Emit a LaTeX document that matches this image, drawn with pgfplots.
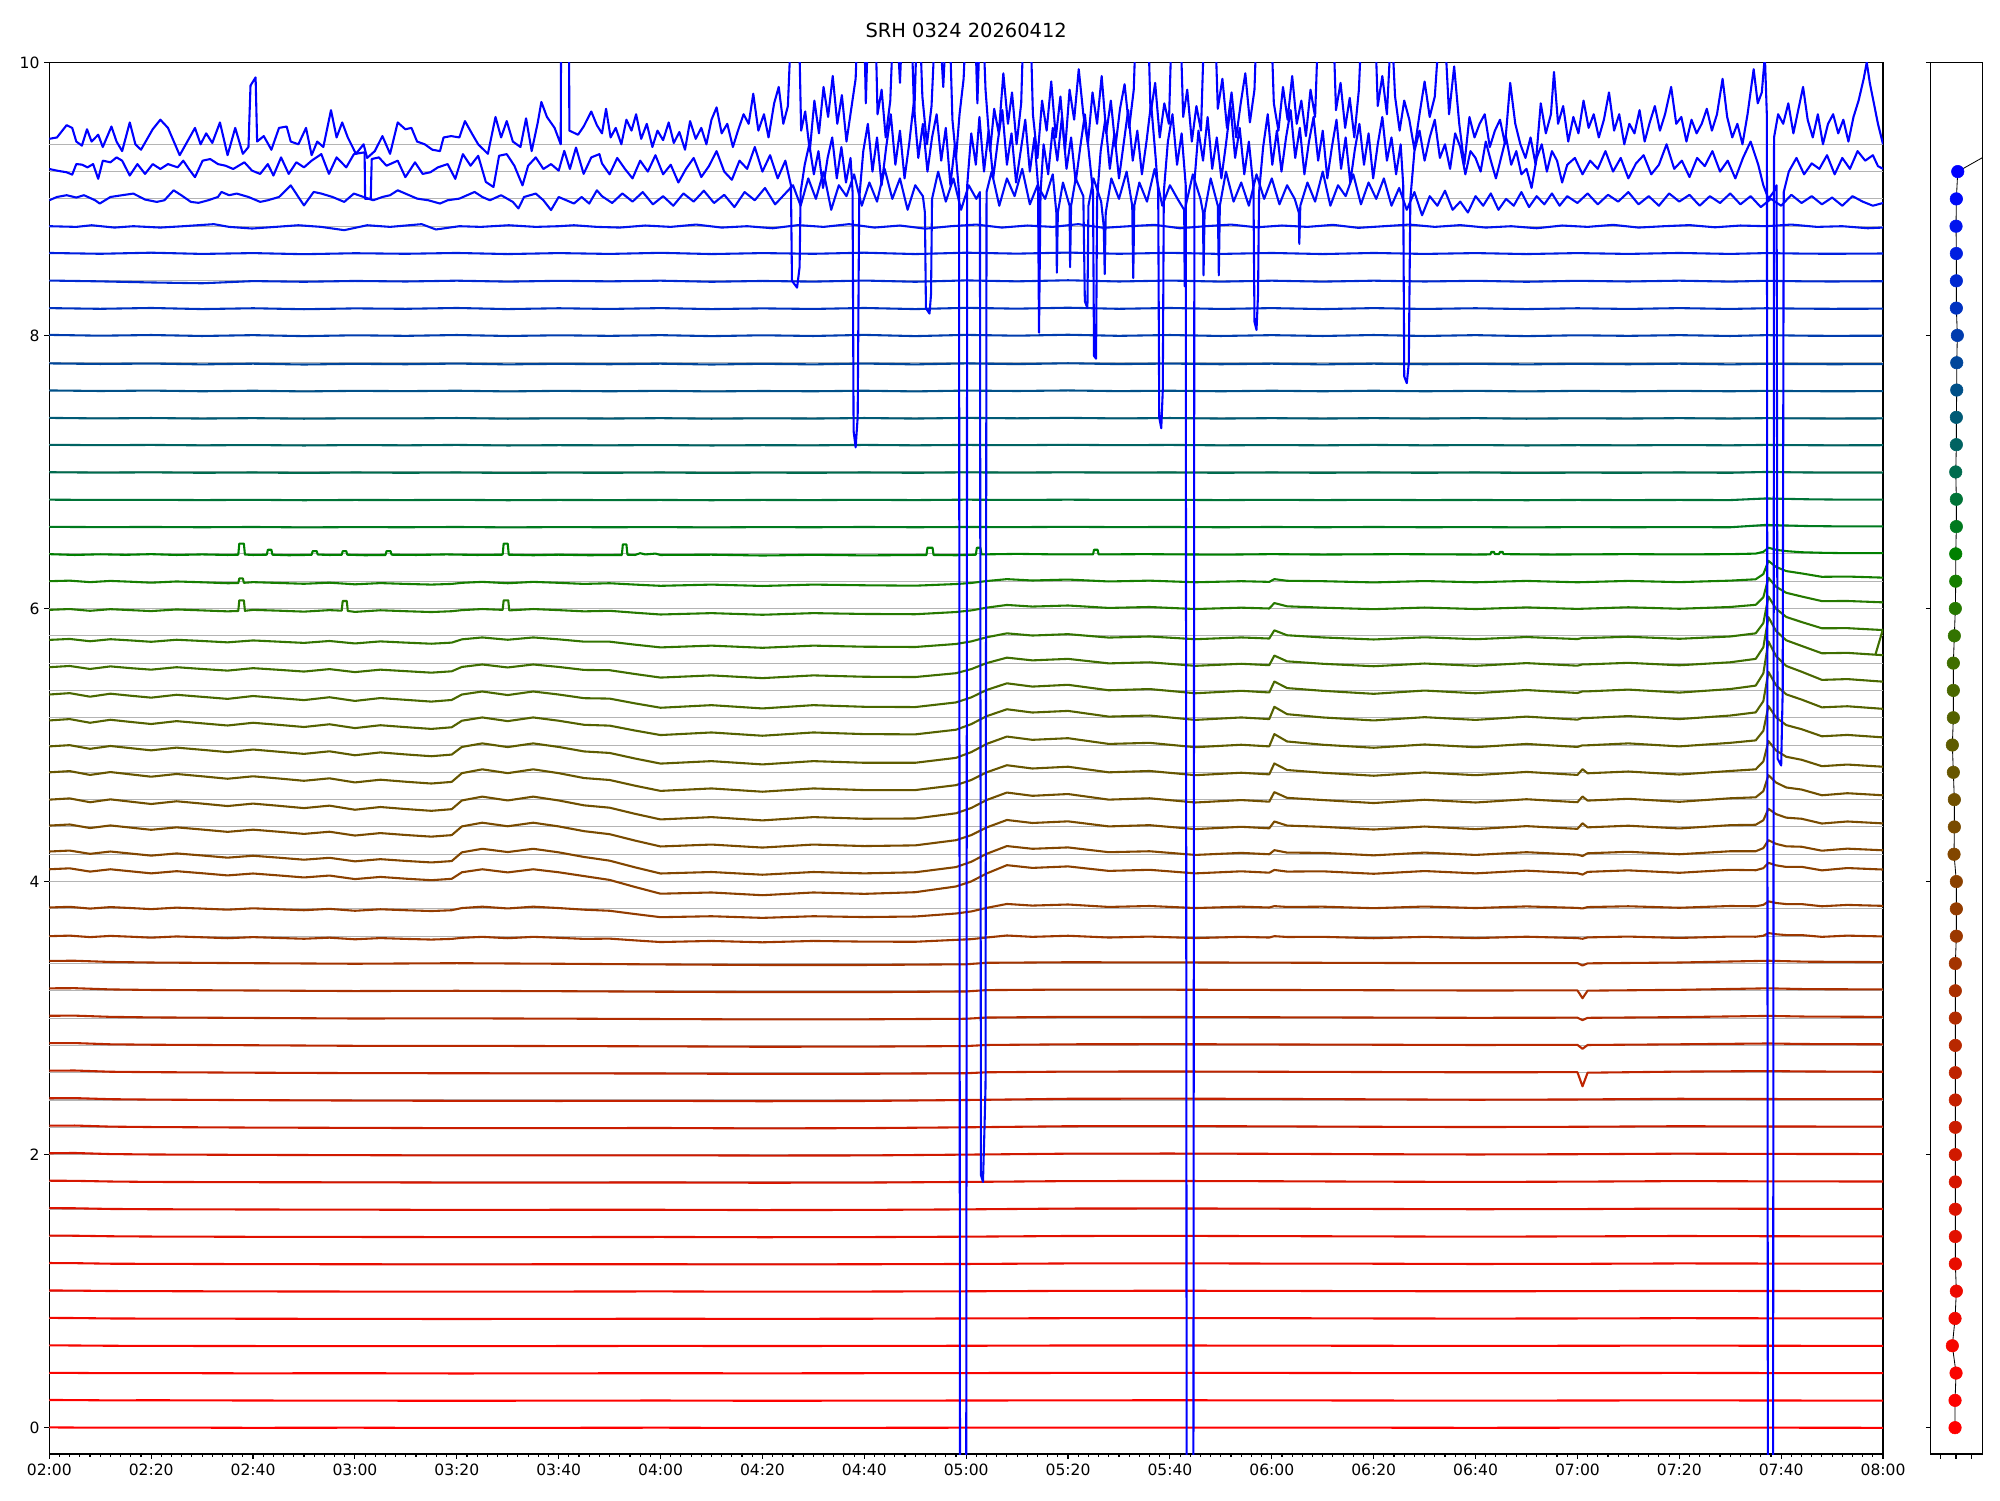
\documentclass[border=0pt]{standalone}
\usepackage{pgfplots}
\pgfplotsset{compat=1.18}
\usepackage{pgfplotstable}
\usepackage{fontspec}
\setmainfont{DejaVu Sans}
\definecolor{gridc}{RGB}{180,180,180}
\definecolor{c0}{RGB}{255,0,0}\definecolor{c1}{RGB}{253,2,0}\definecolor{c2}{RGB}{250,4,0}\definecolor{c3}{RGB}{246,6,0}
\definecolor{c4}{RGB}{242,8,0}\definecolor{c5}{RGB}{237,10,0}\definecolor{c6}{RGB}{232,13,0}\definecolor{c7}{RGB}{226,16,0}
\definecolor{c8}{RGB}{220,19,0}\definecolor{c9}{RGB}{214,22,0}\definecolor{c10}{RGB}{208,25,0}\definecolor{c11}{RGB}{202,29,0}
\definecolor{c12}{RGB}{196,33,0}\definecolor{c13}{RGB}{190,36,0}\definecolor{c14}{RGB}{184,40,0}\definecolor{c15}{RGB}{177,44,0}
\definecolor{c16}{RGB}{170,48,0}\definecolor{c17}{RGB}{163,52,0}\definecolor{c18}{RGB}{155,56,0}\definecolor{c19}{RGB}{147,60,0}
\definecolor{c20}{RGB}{139,65,0}\definecolor{c21}{RGB}{130,70,0}\definecolor{c22}{RGB}{121,75,0}\definecolor{c23}{RGB}{112,80,0}
\definecolor{c24}{RGB}{103,86,0}\definecolor{c25}{RGB}{94,92,0}\definecolor{c26}{RGB}{84,98,0}\definecolor{c27}{RGB}{74,104,0}
\definecolor{c28}{RGB}{63,110,0}\definecolor{c29}{RGB}{51,116,0}\definecolor{c30}{RGB}{38,121,0}\definecolor{c31}{RGB}{22,126,0}
\definecolor{c32}{RGB}{0,128,0}\definecolor{c33}{RGB}{0,122,30}\definecolor{c34}{RGB}{0,115,55}\definecolor{c35}{RGB}{0,107,78}
\definecolor{c36}{RGB}{0,99,98}\definecolor{c37}{RGB}{0,90,117}\definecolor{c38}{RGB}{0,80,136}\definecolor{c39}{RGB}{0,70,155}
\definecolor{c40}{RGB}{0,60,174}\definecolor{c41}{RGB}{0,50,192}\definecolor{c42}{RGB}{0,40,209}\definecolor{c43}{RGB}{0,30,224}
\definecolor{c44}{RGB}{0,20,238}\definecolor{c45}{RGB}{0,10,248}\definecolor{c46}{RGB}{0,0,255}\definecolor{c47}{RGB}{0,0,255}
\pgfplotsset{tr/.style={line width=1.5pt, line join=round, mark=none}}

\pgfplotstableread{
t k0 k1 k2 k3 k4 k5 k6 k7 k8 k9 k10 k11 k12
0 0.002 0.203 0.402 0.603 0.804 1.005 1.206 1.407 1.608 1.809 2.010 2.212 2.413
5 0.001 0.202 0.401 0.602 0.803 1.004 1.205 1.406 1.607 1.808 2.012 2.213 2.414
12 0.000 0.200 0.399 0.600 0.800 1.001 1.201 1.402 1.602 1.803 2.004 2.205 2.406
20 0.001 0.201 0.400 0.599 0.799 1.000 1.200 1.400 1.600 1.800 2.001 2.202 2.403
40 -0.001 0.199 0.398 0.598 0.798 0.998 1.198 1.398 1.598 1.798 1.998 2.198 2.399
60 0.000 0.198 0.399 0.597 0.797 0.997 1.197 1.397 1.597 1.797 1.996 2.196 2.396
80 -0.002 0.197 0.397 0.597 0.796 0.996 1.196 1.396 1.595 1.795 1.994 2.194 2.394
100 -0.001 0.198 0.398 0.598 0.797 0.997 1.197 1.396 1.596 1.795 1.994 2.194 2.393
120 0.000 0.199 0.399 0.599 0.798 0.998 1.197 1.397 1.596 1.796 1.995 2.195 2.394
140 -0.002 0.197 0.398 0.598 0.797 0.996 1.196 1.395 1.594 1.794 1.993 2.192 2.391
160 -0.001 0.198 0.399 0.599 0.798 0.997 1.197 1.396 1.595 1.795 1.994 2.194 2.393
180 0.000 0.199 0.400 0.600 0.800 0.999 1.199 1.399 1.599 1.800 2.000 2.200 2.400
200 0.001 0.200 0.401 0.602 0.802 1.002 1.203 1.404 1.605 1.806 2.007 2.208 2.409
220 0.000 0.201 0.402 0.602 0.803 1.003 1.204 1.405 1.606 1.807 2.008 2.209 2.410
240 0.001 0.200 0.401 0.601 0.802 1.002 1.202 1.403 1.604 1.805 2.006 2.207 2.408
260 0.000 0.199 0.400 0.600 0.800 1.000 1.201 1.401 1.602 1.802 2.003 2.204 2.405
280 -0.001 0.198 0.399 0.599 0.799 0.999 1.199 1.399 1.600 1.800 2.001 2.202 2.402
300 0.000 0.199 0.400 0.600 0.800 1.000 1.200 1.401 1.601 1.802 2.003 2.204 2.404
320 0.001 0.200 0.401 0.601 0.802 1.002 1.203 1.404 1.605 1.806 2.007 2.208 2.409
340 0.000 0.199 0.400 0.600 0.801 1.001 1.202 1.402 1.603 1.804 2.005 2.206 2.407
360 -0.001 0.198 0.399 0.599 0.800 1.000 1.201 1.401 1.602 1.803 2.004 2.205 2.406
}\lowtab

\pgfplotstableread{
t k13 k14 k15 k16 k17
0 2.615 2.816 3.017 3.218 3.419
5 2.616 2.817 3.018 3.219 3.420
12 2.607 2.808 3.009 3.210 3.411
20 2.604 2.805 3.005 3.206 3.407
40 2.600 2.801 3.001 3.202 3.402
60 2.597 2.797 2.997 3.198 3.398
80 2.596 2.797 2.998 3.200 3.402
100 2.595 2.795 2.996 3.197 3.398
120 2.594 2.793 2.993 3.193 3.393
140 2.591 2.790 2.990 3.190 3.389
160 2.592 2.791 2.991 3.190 3.389
180 2.596 2.795 2.995 3.195 3.394
184 2.603 2.803 3.004 3.205 3.405
200 2.608 2.808 3.009 3.209 3.409
220 2.609 2.809 3.008 3.208 3.408
240 2.607 2.807 3.006 3.206 3.406
260 2.605 2.805 3.004 3.204 3.404
280 2.603 2.803 3.002 3.202 3.402
300 2.604 2.804 3.003 3.203 3.403
301 2.500 2.775 2.985 3.145 3.385
302 2.600 2.803 3.002 3.201 3.401
320 2.608 2.808 3.007 3.207 3.407
337.5 2.612 2.814 3.016 3.218 3.420
345 2.609 2.810 3.011 3.212 3.413
360 2.607 2.808 3.009 3.210 3.410
}\lowbtab

\pgfplotstableread{
t k18 k19 k20 k21 k22 k23 k24 k25 k26 k27 k28 k29
0 3.600 3.810 4.090 4.220 4.410 4.600 4.800 4.990 5.180 5.370 5.570 5.770
4 3.604 3.815 4.097 4.227 4.418 4.609 4.809 4.999 5.190 5.380 5.579 5.777
8 3.593 3.802 4.073 4.203 4.392 4.581 4.781 4.972 5.163 5.354 5.557 5.760
12 3.602 3.813 4.090 4.220 4.411 4.602 4.802 4.993 5.185 5.376 5.576 5.775
16 3.596 3.806 4.075 4.205 4.395 4.585 4.785 4.977 5.169 5.361 5.563 5.766
20 3.589 3.798 4.060 4.190 4.379 4.568 4.768 4.961 5.154 5.347 5.552 5.756
25 3.598 3.809 4.076 4.206 4.397 4.588 4.788 4.981 5.175 5.368 5.570 5.771
30 3.592 3.802 4.061 4.191 4.381 4.571 4.771 4.965 5.159 5.353 5.557 5.762
35 3.585 3.794 4.045 4.175 4.364 4.553 4.753 4.948 5.143 5.338 5.545 5.752
40 3.593 3.804 4.059 4.189 4.380 4.571 4.771 4.967 5.163 5.359 5.563 5.766
45 3.587 3.797 4.045 4.175 4.365 4.555 4.755 4.951 5.148 5.344 5.551 5.757
50 3.581 3.790 4.030 4.160 4.349 4.538 4.738 4.935 5.132 5.329 5.538 5.748
55 3.589 3.800 4.044 4.174 4.365 4.556 4.756 4.954 5.152 5.350 5.556 5.762
60 3.577 3.786 4.018 4.148 4.337 4.526 4.726 4.925 5.124 5.323 5.534 5.744
65 3.586 3.797 4.034 4.164 4.355 4.546 4.746 4.946 5.145 5.344 5.552 5.759
70 3.580 3.790 4.021 4.151 4.341 4.531 4.731 4.931 5.131 5.331 5.541 5.750
75 3.575 3.784 4.010 4.140 4.329 4.518 4.718 4.918 5.118 5.318 5.530 5.742
79 3.580 3.790 4.020 4.150 4.340 4.530 4.730 4.930 5.130 5.330 5.540 5.750
81 3.588 3.806 4.068 4.214 4.404 4.594 4.794 4.986 5.178 5.370 5.572 5.774
85 3.595 3.816 4.090 4.240 4.431 4.622 4.822 5.012 5.202 5.392 5.590 5.788
90 3.585 3.803 4.067 4.216 4.405 4.594 4.794 4.985 5.175 5.366 5.568 5.771
95 3.595 3.816 4.090 4.240 4.431 4.622 4.822 5.012 5.202 5.392 5.590 5.788
100 3.588 3.806 4.068 4.214 4.404 4.594 4.794 4.986 5.178 5.370 5.572 5.774
105 3.580 3.794 4.040 4.180 4.369 4.558 4.758 4.953 5.148 5.343 5.550 5.757
110 3.582 3.786 4.012 4.153 4.347 4.541 4.744 4.942 5.142 5.340 5.548 5.757
115 3.569 3.762 3.960 4.104 4.300 4.496 4.702 4.901 5.106 5.305 5.520 5.735
120 3.557 3.739 3.911 4.059 4.257 4.455 4.664 4.864 5.073 5.273 5.494 5.715
130 3.565 3.746 3.920 4.070 4.271 4.472 4.682 4.882 5.092 5.292 5.510 5.728
140 3.555 3.734 3.900 4.050 4.249 4.448 4.658 4.858 5.068 5.268 5.490 5.712
150 3.565 3.746 3.920 4.070 4.271 4.472 4.682 4.882 5.092 5.292 5.510 5.728
160 3.560 3.740 3.910 4.060 4.260 4.460 4.670 4.870 5.080 5.280 5.500 5.720
170 3.559 3.744 3.922 4.068 4.265 4.462 4.670 4.870 5.078 5.278 5.498 5.718
178 3.573 3.766 3.964 4.106 4.303 4.500 4.706 4.906 5.112 5.312 5.526 5.740
181 3.578 3.781 4.001 4.145 4.340 4.539 4.744 4.948 5.153 5.349 5.556 5.759
184 3.590 3.807 4.059 4.203 4.396 4.597 4.800 5.008 5.211 5.403 5.600 5.789
188 3.605 3.836 4.120 4.260 4.451 4.652 4.852 5.062 5.262 5.452 5.640 5.818
193 3.595 3.824 4.100 4.240 4.429 4.628 4.828 5.038 5.238 5.428 5.620 5.802
200 3.603 3.832 4.111 4.250 4.441 4.641 4.841 5.050 5.250 5.441 5.631 5.812
208 3.590 3.814 4.078 4.215 4.404 4.600 4.800 5.008 5.208 5.401 5.598 5.787
216 3.597 3.821 4.086 4.222 4.413 4.610 4.810 5.016 5.216 5.410 5.606 5.795
225 3.586 3.806 4.060 4.195 4.384 4.579 4.779 4.984 5.184 5.379 5.580 5.775
234 3.595 3.816 4.075 4.210 4.401 4.597 4.797 5.002 5.202 5.397 5.595 5.788
239.5 3.590 3.810 4.065 4.200 4.390 4.585 4.785 4.990 5.190 5.385 5.585 5.780
240.5 3.600 3.820 4.085 4.230 4.440 4.655 4.865 5.080 5.280 5.465 5.655 5.840
243 3.594 3.814 4.073 4.212 4.410 4.613 4.817 5.026 5.226 5.417 5.613 5.804
250 3.595 3.816 4.075 4.210 4.401 4.597 4.797 5.002 5.202 5.397 5.595 5.788
260 3.585 3.805 4.057 4.192 4.381 4.575 4.775 4.980 5.180 5.375 5.577 5.773
270 3.595 3.817 4.077 4.212 4.403 4.599 4.799 5.004 5.204 5.399 5.597 5.789
280 3.586 3.806 4.060 4.195 4.384 4.579 4.779 4.984 5.184 5.379 5.580 5.775
290 3.596 3.818 4.080 4.215 4.406 4.603 4.803 5.008 5.208 5.403 5.600 5.791
300 3.586 3.807 4.061 4.197 4.386 4.581 4.781 4.986 5.186 5.381 5.581 5.776
301 3.581 3.803 4.051 4.187 4.427 4.623 4.823 4.998 5.198 5.393 5.591 5.784
302 3.591 3.813 4.071 4.207 4.397 4.593 4.793 4.998 5.198 5.393 5.591 5.784
310 3.597 3.819 4.082 4.218 4.409 4.606 4.806 5.012 5.212 5.406 5.602 5.793
320 3.587 3.808 4.064 4.200 4.389 4.584 4.784 4.990 5.190 5.384 5.584 5.778
330 3.597 3.821 4.086 4.222 4.413 4.610 4.810 5.016 5.216 5.410 5.606 5.795
335 3.596 3.819 4.083 4.222 4.416 4.617 4.822 5.034 5.239 5.435 5.631 5.818
336.5 3.603 3.829 4.098 4.245 4.449 4.662 4.880 5.104 5.321 5.525 5.716 5.893
337.5 3.623 3.855 4.137 4.303 4.533 4.779 5.029 5.286 5.536 5.759 5.937 6.088
339 3.614 3.843 4.119 4.276 4.494 4.725 4.960 5.202 5.437 5.651 5.835 5.998
341 3.608 3.835 4.107 4.258 4.468 4.689 4.914 5.146 5.371 5.579 5.767 5.938
344 3.608 3.835 4.108 4.255 4.460 4.674 4.892 5.116 5.333 5.537 5.726 5.901
348 3.595 3.819 4.082 4.226 4.425 4.632 4.845 5.064 5.276 5.477 5.672 5.855
353 3.604 3.829 4.099 4.241 4.440 4.647 4.857 5.074 5.284 5.483 5.675 5.856
360 3.598 3.822 4.088 4.229 4.426 4.632 4.841 5.056 5.265 5.464 5.658 5.842
}\midtab

\pgfplotstableread{
t k33 k34 k35 k36 k37 k38 k39 k40 k41 k42 k43
0 6.598 6.797 6.998 7.199 7.396 7.597 7.795 8.004 8.200 8.402 8.604
10 6.596 6.795 6.995 7.196 7.392 7.593 7.791 7.998 8.195 8.396 8.598
20 6.597 6.796 6.997 7.198 7.395 7.596 7.794 8.003 8.201 8.388 8.606
30 6.595 6.794 6.994 7.195 7.391 7.591 7.788 7.996 8.193 8.382 8.597
40 6.597 6.796 6.996 7.197 7.394 7.595 7.793 8.002 8.199 8.398 8.603
50 6.594 6.793 6.993 7.194 7.390 7.590 7.787 7.995 8.192 8.393 8.595
60 6.596 6.795 6.996 7.197 7.393 7.594 7.792 8.001 8.198 8.399 8.602
70 6.595 6.794 6.994 7.195 7.392 7.592 7.789 7.997 8.195 8.395 8.598
80 6.597 6.796 6.996 7.198 7.395 7.595 7.794 8.003 8.201 8.401 8.604
90 6.594 6.793 6.993 7.194 7.390 7.590 7.788 7.996 8.193 8.394 8.596
100 6.596 6.795 6.995 7.196 7.393 7.594 7.792 8.001 8.199 8.400 8.603
110 6.595 6.794 6.994 7.195 7.391 7.591 7.789 7.997 8.194 8.396 8.597
120 6.596 6.795 6.996 7.197 7.394 7.594 7.793 8.002 8.200 8.401 8.605
130 6.594 6.793 6.993 7.194 7.390 7.590 7.787 7.995 8.193 8.393 8.596
140 6.596 6.795 6.995 7.196 7.393 7.593 7.792 8.001 8.198 8.399 8.603
150 6.595 6.794 6.994 7.195 7.391 7.591 7.788 7.996 8.194 8.394 8.598
160 6.597 6.796 6.996 7.198 7.395 7.595 7.794 8.004 8.201 8.402 8.606
170 6.595 6.794 6.994 7.195 7.391 7.590 7.788 7.995 8.193 8.393 8.596
180 6.597 6.797 6.997 7.198 7.396 7.596 7.795 8.004 8.202 8.403 8.606
190 6.596 6.795 6.995 7.196 7.393 7.593 7.790 7.998 8.196 8.396 8.599
200 6.598 6.797 6.997 7.199 7.396 7.597 7.796 8.005 8.203 8.404 8.607
210 6.596 6.795 6.995 7.196 7.392 7.592 7.790 7.997 8.195 8.395 8.598
220 6.597 6.796 6.996 7.198 7.395 7.595 7.794 8.003 8.201 8.402 8.605
230 6.595 6.794 6.994 7.195 7.391 7.591 7.789 7.996 8.194 8.394 8.597
240 6.597 6.796 6.996 7.197 7.394 7.595 7.793 8.002 8.200 8.401 8.604
250 6.595 6.794 6.994 7.195 7.391 7.591 7.788 7.996 8.193 8.394 8.596
260 6.597 6.796 6.996 7.198 7.394 7.595 7.793 8.003 8.200 8.401 8.604
270 6.595 6.794 6.994 7.195 7.391 7.591 7.789 7.996 8.194 8.395 8.597
280 6.596 6.795 6.996 7.197 7.394 7.594 7.792 8.002 8.199 8.400 8.603
290 6.594 6.793 6.993 7.194 7.390 7.590 7.788 7.995 8.193 8.393 8.596
300 6.596 6.795 6.995 7.196 7.393 7.594 7.792 8.001 8.199 8.400 8.603
310 6.595 6.794 6.994 7.195 7.391 7.591 7.789 7.997 8.194 8.395 8.597
320 6.596 6.795 6.996 7.197 7.394 7.594 7.793 8.002 8.200 8.401 8.604
330 6.595 6.794 6.994 7.195 7.391 7.591 7.788 7.996 8.194 8.394 8.597
337 6.612 6.806 7.000 7.198 7.394 7.594 7.792 8.002 8.199 8.400 8.603
345 6.604 6.800 6.996 7.196 7.392 7.592 7.790 7.998 8.196 8.396 8.599
350 6.602 6.798 6.995 7.195 7.391 7.591 7.789 7.997 8.195 8.395 8.598
360 6.601 6.797 6.995 7.196 7.392 7.592 7.790 7.998 8.196 8.397 8.600
}\uptab

\begin{document}
\begin{tikzpicture}
\begin{axis}[
  at={(0,0)}, anchor=south west, scale only axis,
  width=1320.3pt, height=1002pt,
  xmin=0, xmax=360, ymin=-0.193, ymax=10,
  xtick={0,20,40,60,80,100,120,140,160,180,200,220,240,260,280,300,320,340,360},
  xticklabels={02:00,02:20,02:40,03:00,03:20,03:40,04:00,04:20,04:40,05:00,05:20,05:40,06:00,06:20,06:40,07:00,07:20,07:40,08:00},
  minor x tick num=9,
  ytick={0,2,4,6,8,10}, yticklabels={0,2,4,6,8,10},
  tick pos=left, tick align=outside,
  major tick length=3.5pt, minor tick length=2pt,
  tick style={black, line width=0.8pt},
  axis line style={black, line width=0.8pt},
  extra y ticks={0,0.2,0.4,0.6,0.8,1,1.2,1.4,1.6,1.8,2,2.2,2.4,2.6,2.8,3,3.2,3.4,3.6,3.8,4,4.2,4.4,4.6,4.8,5,5.2,5.4,5.6,5.8,6,6.2,6.4,6.6,6.8,7,7.2,7.4,7.6,7.8,8,8.2,8.4,8.6,8.8,9,9.2,9.4},
  extra y tick labels={},
  extra y tick style={grid=major, major tick length=0pt},
  major grid style={draw=gridc, line width=0.75pt},
  ticklabel style={font=\fontsize{11.2}{13}\selectfont},
  /pgf/number format/assume math mode=true,
  title={SRH 0324 20260412},
  title style={at={(0.5,1)}, anchor=base, yshift=11.9pt, font=\fontsize{14}{16}\selectfont},
]
% low red traces
\addplot[tr,c0] table[x=t,y=k0]{\lowtab};
\addplot[tr,c1] table[x=t,y=k1]{\lowtab};
\addplot[tr,c2] table[x=t,y=k2]{\lowtab};
\addplot[tr,c3] table[x=t,y=k3]{\lowtab};
\addplot[tr,c4] table[x=t,y=k4]{\lowtab};
\addplot[tr,c5] table[x=t,y=k5]{\lowtab};
\addplot[tr,c6] table[x=t,y=k6]{\lowtab};
\addplot[tr,c7] table[x=t,y=k7]{\lowtab};
\addplot[tr,c8] table[x=t,y=k8]{\lowtab};
\addplot[tr,c9] table[x=t,y=k9]{\lowtab};
\addplot[tr,c10] table[x=t,y=k10]{\lowtab};
\addplot[tr,c11] table[x=t,y=k11]{\lowtab};
\addplot[tr,c12] table[x=t,y=k12]{\lowtab};
\addplot[tr,c13] table[x=t,y=k13]{\lowbtab};
\addplot[tr,c14] table[x=t,y=k14]{\lowbtab};
\addplot[tr,c15] table[x=t,y=k15]{\lowbtab};
\addplot[tr,c16] table[x=t,y=k16]{\lowbtab};
\addplot[tr,c17] table[x=t,y=k17]{\lowbtab};
% middle traces
\addplot[tr,c18] table[x=t,y=k18]{\midtab};
\addplot[tr,c19] table[x=t,y=k19]{\midtab};
\addplot[tr,c20] table[x=t,y=k20]{\midtab};
\addplot[tr,c21] table[x=t,y=k21]{\midtab};
\addplot[tr,c22] table[x=t,y=k22]{\midtab};
\addplot[tr,c23] table[x=t,y=k23]{\midtab};
\addplot[tr,c24] table[x=t,y=k24]{\midtab};
\addplot[tr,c25] table[x=t,y=k25]{\midtab};
\addplot[tr,c26] table[x=t,y=k26]{\midtab};
\addplot[tr,c27] table[x=t,y=k27]{\midtab};
\addplot[tr,c28] table[x=t,y=k28]{\midtab};
\addplot[tr,c28] coordinates {(358.5,5.662)(360,5.85)};
\addplot[tr,c29] table[x=t,y=k29]{\midtab};
% trace 6.0 with pulses
\addplot[tr,c30] coordinates {(0,5.990)(4,5.996)(8,5.983)(12,5.995)(16,5.988)(20,5.981)(25,5.993)(30,5.986)(35,5.979)(37.1,5.982)(37.3,6.06)(38.2,6.06)(38.4,5.983)(40,5.990)(45,5.984)(50,5.977)(55,5.988)(57.4,5.984)(57.6,6.055)(58.4,6.055)(58.6,5.982)(60,5.975)(65,5.987)(70,5.980)(75,5.974)(79,5.980)(81,5.988)(85,5.996)(89.0,5.99)(89.2,6.06)(90.1,6.06)(90.3,5.986)(95,5.996)(100,5.988)(105,5.979)(110,5.983)(115,5.969)(120,5.956)(130,5.966)(140,5.954)(150,5.966)(160,5.960)(170,5.958)(178,5.974)(181,5.986)(184,6.006)(188,6.026)(193,6.014)(200,6.022)(208,6.004)(216,6.011)(225,5.996)(234,6.006)(239.5,6.000)(240.5,6.040)(243,6.016)(250,6.006)(260,5.995)(270,6.007)(280,5.996)(290,6.008)(300,5.997)(310,6.009)(320,5.998)(330,6.011)(335,6.027)(336.5,6.082)(337.5,6.225)(339,6.159)(341,6.115)(344,6.088)(348,6.054)(353,6.055)(360,6.045)};
% trace 6.2
\addplot[tr,c31] coordinates {(0,6.200)(4,6.204)(8,6.193)(12,6.202)(16,6.196)(20,6.189)(25,6.198)(30,6.192)(35,6.185)(37.1,6.186)(37.3,6.22)(38.0,6.22)(38.2,6.188)(40,6.193)(45,6.187)(50,6.181)(55,6.189)(60,6.177)(65,6.186)(70,6.180)(75,6.175)(79,6.180)(81,6.188)(85,6.195)(90,6.185)(95,6.195)(100,6.188)(105,6.180)(110,6.185)(115,6.175)(120,6.166)(130,6.175)(140,6.165)(150,6.175)(160,6.170)(170,6.167)(178,6.179)(181,6.187)(184,6.201)(188,6.215)(193,6.205)(200,6.212)(208,6.198)(216,6.204)(225,6.192)(234,6.200)(239.5,6.195)(240.5,6.215)(243,6.203)(250,6.200)(260,6.191)(270,6.201)(280,6.192)(290,6.202)(300,6.192)(310,6.202)(320,6.193)(330,6.204)(335,6.214)(336.5,6.252)(337.5,6.349)(339,6.304)(341,6.274)(344,6.257)(348,6.232)(353,6.234)(360,6.226)};
% trace 6.4 with pulses
\addplot[tr,c32] coordinates {(0,6.398)(5,6.392)(10,6.397)(15,6.393)(20,6.398)(25,6.392)(30,6.396)(35,6.392)(37.1,6.394)(37.3,6.475)(38.2,6.475)(38.4,6.395)(40,6.392)(42.7,6.394)(42.9,6.43)(43.6,6.43)(43.8,6.394)(47,6.39)(51.5,6.393)(51.7,6.42)(52.5,6.42)(52.7,6.395)(55,6.392)(57.4,6.393)(57.6,6.42)(58.3,6.42)(58.5,6.394)(62,6.39)(66.0,6.392)(66.2,6.42)(67.0,6.42)(67.2,6.394)(72,6.392)(78,6.396)(84,6.392)(89.0,6.394)(89.2,6.475)(90.0,6.475)(90.2,6.394)(95,6.39)(100,6.394)(106,6.39)(112.4,6.392)(112.6,6.47)(113.3,6.47)(113.5,6.394)(115,6.392)(116,6.405)(117,6.396)(119,6.402)(120,6.392)(130,6.394)(140,6.388)(150,6.393)(160,6.389)(172.2,6.392)(172.4,6.445)(173.4,6.445)(173.6,6.392)(178,6.39)(181.9,6.394)(182.1,6.445)(182.8,6.445)(183,6.396)(190,6.4)(198,6.396)(204.9,6.396)(205.1,6.43)(205.8,6.43)(206,6.396)(215,6.398)(230,6.394)(240,6.398)(250,6.395)(265,6.398)(280,6.395)(282.9,6.396)(283.1,6.415)(283.6,6.415)(283.8,6.398)(284.6,6.398)(284.8,6.415)(285.3,6.415)(285.5,6.398)(295,6.395)(310,6.398)(320,6.396)(330,6.398)(335,6.402)(336.5,6.415)(337.5,6.445)(339,6.43)(341,6.42)(344,6.412)(348,6.408)(353,6.405)(360,6.405)};
% upper traces
\addplot[tr,c33] table[x=t,y=k33]{\uptab};
\addplot[tr,c34] table[x=t,y=k34]{\uptab};
\addplot[tr,c35] table[x=t,y=k35]{\uptab};
\addplot[tr,c36] table[x=t,y=k36]{\uptab};
\addplot[tr,c37] table[x=t,y=k37]{\uptab};
\addplot[tr,c38] table[x=t,y=k38]{\uptab};
\addplot[tr,c39] table[x=t,y=k39]{\uptab};
\addplot[tr,c40] table[x=t,y=k40]{\uptab};
\addplot[tr,c41] table[x=t,y=k41]{\uptab};
\addplot[tr,c42] table[x=t,y=k42]{\uptab};
\addplot[tr,c43] table[x=t,y=k43]{\uptab};
% trace 8.8
\addplot[tr,c44] coordinates {(0,8.800)(5.3,8.795)(8.3,8.807)(12.8,8.790)(16.5,8.800)(21.8,8.790)(26.3,8.800)(32.3,8.815)(35.3,8.795)(39.8,8.783)(44.4,8.795)(48.9,8.807)(53.4,8.795)(57.9,8.771)(62.4,8.807)(66.9,8.795)(73.1,8.815)(75.9,8.776)(80.5,8.800)(84.7,8.795)(90.2,8.807)(95.5,8.795)(100.0,8.800)(103.0,8.807)(107.5,8.795)(112,8.790)(117,8.805)(122,8.795)(127,8.812)(132,8.790)(137,8.800)(142,8.785)(147,8.808)(152,8.795)(157,8.815)(162,8.790)(167,8.805)(172,8.782)(177,8.800)(182,8.812)(187,8.790)(192,8.805)(197,8.795)(202,8.815)(207,8.788)(212,8.800)(217,8.810)(222,8.785)(227,8.800)(232,8.812)(237,8.792)(242,8.805)(247,8.795)(252,8.810)(257,8.788)(262,8.800)(267,8.812)(272,8.795)(277,8.808)(282,8.790)(287,8.800)(292,8.785)(297,8.805)(302,8.795)(307,8.810)(312,8.790)(317,8.800)(322,8.808)(327,8.792)(332,8.805)(337,8.800)(342,8.812)(347,8.795)(352,8.800)(357,8.785)(360,8.790)};
% trace 9.0
\addplot[tr,c45] coordinates {(0,8.990)(1.5,9.014)(3.4,9.027)(5.3,9.010)(6.8,9.027)(9.0,8.990)(9.9,8.966)(12.0,9.014)(14.3,9.027)(16.5,9.039)(18.8,8.995)(21.1,8.978)(22.6,8.990)(24.4,9.063)(25.9,9.027)(27.8,8.978)(29.3,8.971)(31.2,8.990)(33.1,9.014)(33.8,9.051)(35.3,9.027)(36.8,9.039)(39.1,9.014)(41.4,8.978)(42.9,8.990)(45.1,9.014)(47.4,9.099)(48.9,9.014)(50.0,8.952)(51.9,9.051)(53.4,9.039)(55.6,9.014)(57.9,8.978)(59.8,9.039)(61.7,9.014)(63.6,8.990)(65.4,9.014)(66.9,9.027)(68.4,9.063)(69.9,9.039)(72.2,9.002)(74.4,8.990)(76.7,8.966)(78.2,8.990)(80.5,9.002)(83.5,9.051)(85.0,9.014)(86.5,8.990)(88.7,9.027)(91.0,8.978)(92.1,8.930)(93.2,9.014)(95.5,9.039)(97.0,8.990)(98.5,8.918)(100.0,9.014)(101.5,8.990)(103.0,8.966)(104.5,9.014)(106.0,8.966)(107.5,9.063)
(108.5,9.02)(110.5,8.97)(112.5,9.04)(114.5,8.98)(116.5,9.05)(118.5,8.96)(120.5,9.02)(122.5,8.95)(124.5,9.04)(126.5,8.98)(128.5,9.06)(130.5,8.97)(132.5,9.03)(134.5,8.94)(136.5,9.05)(138.5,8.99)(140.5,9.08)(142.5,8.96)(144.5,9.04)(146,9.10)(147.5,8.95)(149,9.15)(150.5,9.00)(152,9.20)(153.5,8.92)(155,9.10)(156.5,9.02)(158,9.18)(159.5,8.95)(161,9.12)(162.5,8.98)(164,9.22)(165.5,9.00)(167,9.15)(168.5,8.92)(170,9.10)(171.5,9.02)(171.9,8.9)(172.1,8.20)(172.8,8.16)(173.1,8.30)(173.3,9.0)(174.5,9.20)(176,8.98)(177.5,9.15)(179,8.92)(180.5,9.10)(182,9.00)(182.7,9.05)(182.9,1.85)(183.3,1.80)(183.6,2.20)(183.8,2.50)(184.0,9.05)(185,9.20)(186.5,8.95)(188,9.15)(189.5,9.02)(191,9.22)(192.5,8.96)(194,9.10)(195.5,9.00)(197,9.18)(197.7,8.9)(197.8,8.46)(198.0,8.9)(199,9.12)(200.3,8.95)(200.4,8.5)(200.6,8.95)(201.5,9.15)(203.0,9.02)(203.3,8.25)(203.8,8.2)(204,8.95)(205,9.15)(206.5,8.98)(207.0,8.8)(207.2,8.45)(207.4,8.9)(208.5,9.15)(210,9.00)(211.5,9.20)(212.6,8.95)(212.8,8.42)(213.0,8.95)(214,9.12)(215.5,8.98)(217,9.22)(218.5,8.95)(220,9.10)(221.5,9.00)(222.8,8.92)(222.9,8.36)(223.1,8.95)(224.5,9.18)(226,9.00)(226.5,8.9)(226.6,8.44)(226.8,8.9)(228,9.15)(229.4,8.95)(229.6,8.44)(229.8,8.95)(231,9.20)(232.5,8.98)(234,9.12)(235.5,8.95)(237,9.18)(238.5,9.00)(240,9.15)(241.5,8.96)(243,9.10)(244.5,9.00)(245.3,8.9)(245.4,8.67)(245.6,8.95)(247,9.12)(248.5,8.98)(250,9.20)(251.5,8.95)(253,9.10)(254.5,9.02)(256,9.18)(257.5,8.96)(259,9.12)(260.5,9.00)(262,9.15)(263.5,8.95)(265,9.08)(266.5,8.92)(268,9.05)(269.5,8.88)(271,9.02)(272.5,8.95)(274,9.06)(275.5,8.92)(277,8.98)(278.5,8.90)(280,9.02)(281.5,8.95)(283,9.04)(284.5,8.92)(286,9.00)(287.5,8.95)(289,9.05)(290.5,8.94)(292,9.02)(293.5,8.96)(295,9.04)(296.5,8.95)(298,9.02)(300,8.97)(302,9.04)(304,8.96)(306,9.03)(308,8.98)(310,9.05)(312,8.96)(314,9.02)(316,8.95)(318,9.04)(320,8.98)(322,9.03)(324,8.95)(326,9.02)(328,8.97)(330,9.04)(332,8.96)(334,9.02)(336,8.94)(338,9.00)(340,8.95)(342,9.03)(344,8.97)(346,9.02)(348,8.96)(350,9.01)(352,8.95)(354,9.02)(356,8.98)(358,8.95)(360,8.97)};
% trace 9.2
\addplot[tr,c46] coordinates {(0,9.219)(1.5,9.207)(3.4,9.195)(4.5,9.178)(5.3,9.255)(6.4,9.251)(7.5,9.231)(8.6,9.255)(9.6,9.147)(10.5,9.280)(12.0,9.268)(13.2,9.304)(14.3,9.280)(15.8,9.171)(17.3,9.255)(18.8,9.183)(20.3,9.255)(21.8,9.219)(23.3,9.255)(25.2,9.231)(26.3,9.280)(27.4,9.219)(28.6,9.159)(30.1,9.280)(31.6,9.292)(33.1,9.255)(34.6,9.243)(36.1,9.219)(38.3,9.268)(39.8,9.207)(41.4,9.183)(42.9,9.255)(44.0,9.171)(45.5,9.304)(47.0,9.183)(48.5,9.268)(50.0,9.231)(51.5,9.280)(53.4,9.328)(54.9,9.183)(56.4,9.304)(58.3,9.231)(59.8,9.328)(61.7,9.340)(61.9,9.340)(62.0,9.0)(63.1,9.0)(63.3,9.292)(64.7,9.304)(66.2,9.243)(68.4,9.280)(69.9,9.159)(71.8,9.268)(73.3,9.183)(74.8,9.195)(76.3,9.231)(78.2,9.255)(79.7,9.147)(81.2,9.328)(82.7,9.243)(84.2,9.316)(85.7,9.124)(87.2,9.087)(88.3,9.316)(89.8,9.328)(91.3,9.243)(92.9,9.099)(94.0,9.243)(95.5,9.304)(97.0,9.219)(98.5,9.255)(100.0,9.207)(101.1,9.352)(102.2,9.219)(103.4,9.376)(104.9,9.183)(106.4,9.304)(108.0,9.328)
(108.5,9.26)(110,9.18)(111.5,9.30)(113,9.22)(114.5,9.15)(116,9.28)(117.5,9.20)(119,9.32)(120.5,9.18)(122,9.25)(123.5,9.12)(125,9.22)(126.5,9.30)(128,9.16)(129.5,9.24)(131,9.35)(132.5,9.20)(134,9.14)(135.5,9.28)(137,9.22)(138.5,9.38)(140,9.20)(141.5,9.32)(143,9.15)(144.5,9.28)(145.6,9.10)(145.8,8.40)(146.8,8.35)(147.3,8.50)(147.5,9.05)(148.3,9.25)(149.2,9.40)(150.1,9.18)(151.0,9.35)(151.9,9.08)(152.8,9.30)(153.7,9.45)(154.6,9.15)(155.5,9.38)(156.4,9.12)(157.3,9.30)(157.7,9.05)(157.9,7.30)(158.3,7.18)(158.7,7.40)(159.0,9.00)(159.8,9.35)(160.7,9.55)(161.6,9.20)(162.5,9.45)(163.4,9.10)(164.3,9.38)(165.2,9.62)(166.1,9.25)(167.0,9.50)(167.9,9.15)(168.8,9.40)(169.7,9.70)(170.6,9.30)(171.5,9.55)(172.4,9.20)(173.3,9.45)(174.2,9.62)(175.1,9.28)(176.0,9.52)(176.9,9.10)(177.8,9.40)(178.6,9.05)(178.8,-1)(180.0,-1)(180.2,9.10)(181.0,9.48)(181.9,9.25)(182.6,9.60)(183.5,9.20)(184.4,9.50)(185.3,9.15)(186.2,9.42)(187.1,9.65)(188.0,9.25)(188.9,9.48)(189.8,9.12)(190.7,9.35)(191.6,9.58)(192.5,9.20)(193.4,9.45)(194.1,9.10)(194.3,8.02)(194.6,9.05)(195.2,9.40)(196.1,9.18)(197.0,9.52)(197.9,9.28)(198.8,9.60)(199.7,9.22)(200.6,9.45)(201.5,9.12)(202.4,9.38)(203.3,9.62)(204.2,9.30)(204.9,9.05)(205.1,7.85)(205.5,7.83)(205.7,9.00)(206.4,9.35)(207.3,9.58)(208.2,9.22)(209.1,9.48)(210.0,9.15)(210.9,9.40)(211.8,9.65)(212.7,9.28)(213.6,9.50)(214.5,9.18)(215.4,9.42)(216.3,9.70)(217.2,9.30)(217.7,9.05)(217.9,7.40)(218.3,7.32)(218.6,7.60)(218.8,9.05)(219.6,9.42)(220.5,9.62)(221.4,9.25)(222.3,9.48)(223.1,9.10)(223.3,-1)(224.6,-1)(224.8,9.12)(225.6,9.50)(226.5,9.28)(227.4,9.60)(228.3,9.22)(229.2,9.45)(230.1,9.15)(231.0,9.40)(231.9,9.68)(232.8,9.30)(233.7,9.52)(234.6,9.18)(235.5,9.42)(236.4,9.08)(236.6,8.10)(237.0,8.04)(237.3,8.30)(237.5,9.05)(238.3,9.38)(239.2,9.62)(240.1,9.25)(241.0,9.50)(241.9,9.20)(242.8,9.45)(243.7,9.65)(244.6,9.30)(245.5,9.52)(246.4,9.18)(247.3,9.42)(248.2,9.60)(249.1,9.28)(250.0,9.50)(250.9,9.15)(251.8,9.38)(252.7,9.58)(253.6,9.22)(254.5,9.45)(255.4,9.12)(256.3,9.36)(257.2,9.55)(258.1,9.25)(259.0,9.48)(259.9,9.15)(260.8,9.40)(261.7,9.60)(262.6,9.28)(263.5,9.45)(264.4,9.18)(265.3,9.40)(265.8,9.10)(266.0,7.70)(266.5,7.65)(266.9,7.80)(267.2,9.00)(268.0,9.35)(269.0,9.50)(270.0,9.28)(271.0,9.45)(272.0,9.58)(273.0,9.30)(274.0,9.40)(275.0,9.22)(276.0,9.48)(277.0,9.38)(278.0,9.18)(279.0,9.35)(280.0,9.30)(281.0,9.20)(282.0,9.42)(283.0,9.28)(284.0,9.15)(285.0,9.30)(286.0,9.45)(287.0,9.25)(288.0,9.35)(289.0,9.18)(290.0,9.22)(291.0,9.08)(292.0,9.30)(293.0,9.40)(294.0,9.20)(295.0,9.35)(296.0,9.28)(297.0,9.12)(298.0,9.25)(299.5,9.30)(301,9.18)(302.5,9.28)(304,9.22)(305.5,9.35)(307,9.20)(308.5,9.30)(310,9.15)(311.5,9.26)(313,9.32)(314.5,9.18)(316,9.25)(317.5,9.40)(319,9.22)(320.5,9.28)(322,9.16)(323.5,9.30)(325,9.24)(326.5,9.35)(328,9.20)(329.5,9.28)(331,9.15)(332.5,9.30)(334,9.42)(335.5,9.25)(336.5,9.10)(337.5,9.0)(338.5,9.05)(339.1,9.10)(339.3,4.90)(340.0,4.85)(340.3,5.40)(340.5,9.05)(341.5,9.20)(343,9.30)(344.5,9.18)(346,9.26)(347.5,9.22)(349,9.32)(350.5,9.18)(352,9.30)(353.5,9.22)(355,9.35)(356.5,9.28)(358,9.32)(359,9.24)(360,9.22)};
% trace 9.4
\addplot[tr,c47] coordinates {(0,9.44)(1.5,9.45)(3.4,9.54)(4.5,9.52)(5.3,9.42)(6.4,9.39)(7.4,9.51)(8.3,9.42)(9.6,9.47)(10.5,9.38)(12.2,9.53)(13.2,9.42)(14.3,9.35)(15.8,9.56)(16.9,9.40)(18.0,9.36)(20.3,9.51)(21.8,9.58)(23.3,9.52)(25.6,9.32)(27.1,9.42)(28.6,9.52)(29.7,9.40)(30.8,9.48)(32.0,9.41)(33.5,9.56)(35.0,9.32)(36.5,9.52)(38.0,9.33)(39.1,9.38)(39.5,9.83)(40.0,9.86)(40.5,9.89)(40.8,9.42)(42.1,9.46)(43.6,9.36)(45.1,9.52)(46.6,9.53)(47.4,9.42)(48.9,9.40)(50.4,9.52)(51.5,9.32)(52.6,9.42)(53.8,9.38)(55.3,9.65)(56.4,9.45)(57.5,9.56)(58.6,9.45)(60.2,9.33)(61.7,9.40)(62.4,9.30)(63.9,9.35)(65.4,9.46)(66.9,9.33)(68.4,9.56)(69.9,9.51)(71.1,9.52)(72.2,9.42)(73.7,9.40)(75.2,9.36)(76.7,9.35)(77.4,9.45)(78.9,9.46)(80.5,9.45)(81.6,9.57)(83.1,9.47)(84.2,9.40)(86.1,9.33)(87.6,9.60)(88.7,9.45)(89.8,9.57)(91.0,9.42)(92.5,9.38)(93.6,9.59)(94.7,9.35)(95.9,9.56)(96.6,9.71)(97.7,9.60)(99.2,9.52)(100.2,9.42)(100.4,9.40)(100.5,10.5)(102.0,10.5)(102.1,9.50)(103.8,9.47)(104.9,9.53)(106.4,9.64)(107.5,9.54)
(108.5,9.48)(109.3,9.66)(110.2,9.45)(111.2,9.52)(112.3,9.40)(113.3,9.58)(114.3,9.50)(115.2,9.62)(116.2,9.44)(117.3,9.55)(118.4,9.38)(119.4,9.50)(120.5,9.43)(121.6,9.56)(122.6,9.41)(123.7,9.49)(124.8,9.36)(125.8,9.57)(126.9,9.44)(128.0,9.52)(129.0,9.40)(130.0,9.58)(131.0,9.67)(132.0,9.48)(133.1,9.55)(134.2,9.38)(135.2,9.50)(136.3,9.62)(137.3,9.55)(138.2,9.77)(139.2,9.50)(140.3,9.62)(141.2,9.45)(142.3,9.70)(143.2,9.82)(144.1,9.55)(145.0,9.68)(146.0,10.6)(147.0,10.6)(147.6,9.50)(148.4,9.64)(149.3,9.35)(150.2,9.72)(151.1,9.48)(152.0,9.82)(152.9,9.60)(153.8,9.90)(154.7,9.55)(155.6,9.76)(156.5,9.42)(157.4,9.65)(158.3,9.88)(159.0,10.6)(159.8,10.6)(160.3,9.70)(161.0,10.6)(162.0,10.6)(162.6,9.62)(163.4,9.80)(164.2,9.45)(165.1,9.72)(166.0,10.6)(167.0,9.85)(167.8,10.6)(169.0,10.6)(169.8,9.60)(170.6,10.6)(171.4,9.75)(172.3,9.40)(173.2,9.68)(174.3,10.6)(175.5,9.82)(176.5,10.6)(177.3,9.58)(178.0,9.30)(178.7,9.62)(179.5,9.88)(180.3,10.6)(181.5,10.6)(182.2,9.70)(183.0,10.6)(183.8,9.80)(184.7,9.35)(185.5,9.66)(186.4,9.48)(187.3,9.92)(188.2,9.55)(189.0,9.78)(189.9,9.40)(190.8,9.70)(191.5,10.6)(192.4,10.6)(193.1,9.62)(194.0,9.30)(194.9,9.72)(195.8,9.50)(196.7,9.86)(197.6,9.45)(198.5,9.75)(199.4,9.35)(200.3,9.80)(201.2,9.58)(202.1,9.95)(203.0,9.62)(203.9,9.40)(204.8,9.78)(205.7,9.55)(206.6,9.90)(207.5,9.48)(208.4,9.72)(209.3,9.38)(210.2,9.66)(211.1,9.84)(212.0,9.52)(212.9,9.80)(213.6,10.6)(215.5,10.6)(216.2,9.62)(217.1,9.85)(218.0,9.45)(218.9,9.70)(219.8,9.55)(220.6,10.6)(221.8,10.6)(222.6,9.60)(223.4,9.80)(224.3,9.42)(225.2,9.68)(226.1,9.50)(227.0,10.6)(228.6,10.6)(229.4,9.66)(230.3,9.88)(231.2,9.52)(232.1,9.78)(233.0,9.45)(233.9,9.70)(234.8,9.92)(235.7,9.56)(236.6,9.80)(237.3,10.6)(239.6,10.6)(240.4,9.70)(241.3,9.50)(242.2,9.82)(243.1,9.58)(244.0,9.90)(244.9,9.55)(245.8,9.72)(246.7,9.46)(247.6,9.80)(248.5,9.60)(249.4,10.6)(251.8,10.6)(252.6,9.65)(253.5,9.85)(254.4,9.52)(255.3,9.74)(256.2,9.45)(257.1,9.80)(258.0,10.6)(260.0,10.6)(260.8,9.68)(261.7,9.90)(262.6,9.62)(263.5,10.3)(264.2,9.75)(265.1,9.50)(266.0,9.72)(267.0,9.58)(268.0,9.36)(269.0,9.62)(270.0,9.86)(271.0,9.60)(272.0,9.75)(273.0,10.3)(274.0,10.2)(274.8,9.62)(275.8,9.97)(276.8,9.55)(277.8,9.25)(278.8,9.60)(279.8,9.45)(280.8,9.55)(281.8,9.62)(282.8,9.38)(283.8,9.50)(284.8,9.58)(285.8,9.40)(286.8,9.85)(287.8,9.55)(288.8,9.40)(289.8,9.30)(290.8,9.45)(291.8,9.25)(292.8,9.70)(293.8,9.48)(294.8,9.62)(295.4,9.93)(296.2,9.55)(297.2,9.68)(298.2,9.42)(299.2,9.60)(300.2,9.48)(301.2,9.72)(302.2,9.52)(303.2,9.62)(304.2,9.45)(305.2,9.58)(306.2,9.78)(307.2,9.50)(308.2,9.62)(309.2,9.40)(310.2,9.55)(311.2,9.48)(312.2,9.65)(313.2,9.42)(314.2,9.56)(315.2,9.68)(316.2,9.50)(317.2,9.62)(318.4,9.82)(319.4,9.55)(320.4,9.60)(321.4,9.42)(322.4,9.58)(323.4,9.48)(324.4,9.55)(325.4,9.66)(326.4,9.50)(327.4,9.62)(328.5,9.88)(329.4,9.60)(330.4,9.45)(331.4,9.55)(332.4,9.40)(333.4,9.62)(334.6,9.95)(335.4,9.70)(336.2,9.78)(336.8,10.05)(337.2,9.6)(337.4,-1)(338.4,-1)(338.6,9.45)(339.4,9.62)(340.4,9.55)(341.4,9.70)(342.4,9.48)(343.4,9.66)(344.3,9.82)(345.2,9.58)(346.2,9.45)(347.2,9.62)(348.2,9.40)(349.2,9.55)(350.2,9.62)(351.2,9.48)(352.2,9.58)(353.2,9.42)(354.2,9.60)(355.2,9.72)(356.2,9.88)(356.8,10.0)(357.4,9.85)(358.2,9.70)(359.0,9.55)(360.0,9.40)};
\end{axis}

\begin{axis}[
  at={(1354.6pt,0)}, anchor=south west, scale only axis,
  width=37.2pt, height=1002pt,
  xmin=-25.3, xmax=26.3, ymin=-0.193, ymax=10,
  xtick={-15.6,0,15.6}, xticklabels={,,},
  ytick={0,2,4,6,8,10}, yticklabels={,,,,,},
  tick pos=left, tick align=outside,
  major tick length=3.5pt,
  tick style={black, line width=0.8pt},
  axis line style={black, line width=0.8pt},
]
\pgfplotsset{dot/.style={only marks, mark=*, mark size=4.5pt}}
\addplot[dot,c0] coordinates {(-1.0,0)};
\addplot[dot,c1] coordinates {(-1.0,0.2)};
\addplot[dot,c2] coordinates {(0.0,0.4)};
\addplot[dot,c3] coordinates {(-3.7,0.6)};
\addplot[dot,c4] coordinates {(-1.0,0.8)};
\addplot[dot,c5] coordinates {(0.3,1.0)};
\addplot[dot,c6] coordinates {(-0.7,1.2)};
\addplot[dot,c7] coordinates {(-0.7,1.4)};
\addplot[dot,c8] coordinates {(-0.7,1.6)};
\addplot[dot,c9] coordinates {(-0.7,1.8)};
\addplot[dot,c10] coordinates {(-0.7,2.0)};
\addplot[dot,c11] coordinates {(-0.7,2.2)};
\addplot[dot,c12] coordinates {(-0.7,2.4)};
\addplot[dot,c13] coordinates {(-0.7,2.6)};
\addplot[dot,c14] coordinates {(-0.7,2.8)};
\addplot[dot,c15] coordinates {(-0.7,3.0)};
\addplot[dot,c16] coordinates {(-0.7,3.2)};
\addplot[dot,c17] coordinates {(-0.7,3.4)};
\addplot[dot,c18] coordinates {(0.3,3.6)};
\addplot[dot,c19] coordinates {(0.3,3.8)};
\addplot[dot,c20] coordinates {(0.3,4.0)};
\addplot[dot,c21] coordinates {(-2.0,4.2)};
\addplot[dot,c22] coordinates {(-1.7,4.4)};
\addplot[dot,c23] coordinates {(-1.7,4.6)};
\addplot[dot,c24] coordinates {(-2.7,4.8)};
\addplot[dot,c25] coordinates {(-3.7,5.0)};
\addplot[dot,c26] coordinates {(-2.7,5.2)};
\addplot[dot,c27] coordinates {(-2.7,5.4)};
\addplot[dot,c28] coordinates {(-2.7,5.6)};
\addplot[dot,c29] coordinates {(-1.7,5.8)};
\addplot[dot,c30] coordinates {(-0.7,6.0)};
\addplot[dot,c31] coordinates {(-0.3,6.2)};
\addplot[dot,c32] coordinates {(-0.3,6.4)};
\addplot[dot,c33] coordinates {(0.3,6.6)};
\addplot[dot,c34] coordinates {(0.3,6.8)};
\addplot[dot,c35] coordinates {(-0.3,7.0)};
\addplot[dot,c36] coordinates {(0.3,7.2)};
\addplot[dot,c37] coordinates {(0.3,7.4)};
\addplot[dot,c38] coordinates {(0.7,7.6)};
\addplot[dot,c39] coordinates {(0.7,7.8)};
\addplot[dot,c40] coordinates {(1.3,8.0)};
\addplot[dot,c41] coordinates {(0.3,8.2)};
\addplot[dot,c42] coordinates {(0.3,8.4)};
\addplot[dot,c43] coordinates {(0.3,8.6)};
\addplot[dot,c44] coordinates {(0.0,8.8)};
\addplot[dot,c45] coordinates {(0.3,9.0)};
\addplot[dot,c46] coordinates {(1.7,9.2)};
\addplot[black, line width=0.6pt, mark=none] coordinates {(-1.0,0)(-1.0,0.2)(0.0,0.4)(-3.7,0.6)(-1.0,0.8)(0.3,1.0)(-0.7,1.2)(-0.7,1.4)(-0.7,1.6)(-0.7,1.8)(-0.7,2.0)(-0.7,2.2)(-0.7,2.4)(-0.7,2.6)(-0.7,2.8)(-0.7,3.0)(-0.7,3.2)(-0.7,3.4)(0.3,3.6)(0.3,3.8)(0.3,4.0)(-2.0,4.2)(-1.7,4.4)(-1.7,4.6)(-2.7,4.8)(-3.7,5.0)(-2.7,5.2)(-2.7,5.4)(-2.7,5.6)(-1.7,5.8)(-0.7,6.0)(-0.3,6.2)(-0.3,6.4)(0.3,6.6)(0.3,6.8)(-0.3,7.0)(0.3,7.2)(0.3,7.4)(0.7,7.6)(0.7,7.8)(1.3,8.0)(0.3,8.2)(0.3,8.4)(0.3,8.6)(0.0,8.8)(0.3,9.0)(1.7,9.2)(50,9.4)};
\end{axis}
\pgfresetboundingbox
\path[use as bounding box] (-35.5pt,-33.1pt) rectangle (1404.5pt,1046.9pt);
\end{tikzpicture}
\end{document}
